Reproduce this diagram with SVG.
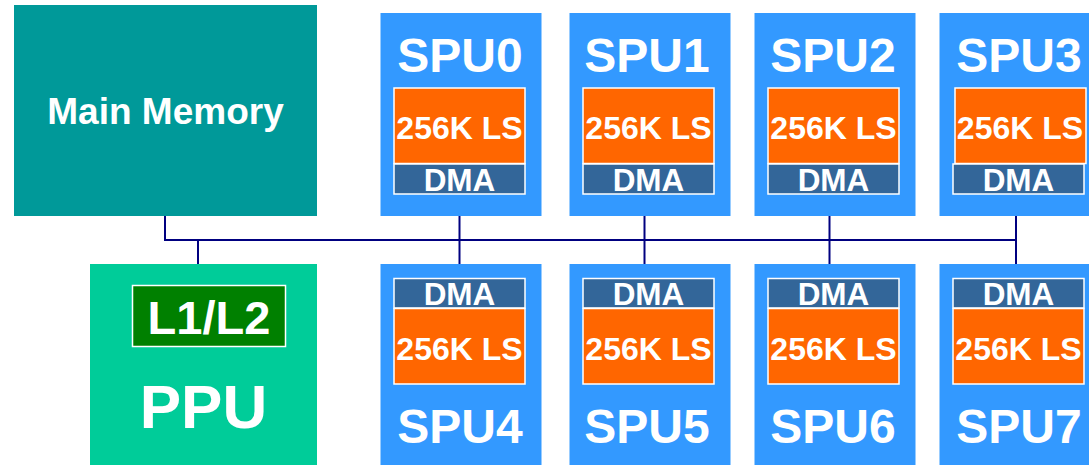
<svg xmlns="http://www.w3.org/2000/svg" width="1089" height="465" viewBox="0 0 1089 465">
  <defs>
    <style>
      text { font-family: "Liberation Sans", Arial, sans-serif; font-weight: bold; fill: #ffffff; text-anchor: middle; }
      .spu { fill: #3399ff; }
      .ls { fill: #ff6600; stroke: #ffffff; stroke-width: 1.5; }
      .dma { fill: #336699; stroke: #ffffff; stroke-width: 1.5; }
      .spu-label { font-size: 48px; }
      .ls-label { font-size: 32px; }
      .dma-label { font-size: 31.5px; }
      .bus { fill: none; stroke: #000080; stroke-width: 2; }
    </style>
  </defs>

  <rect width="1089" height="465" fill="#ffffff"/>

  <!-- interconnect bus -->
  <g id="connectors">
    <polyline class="bus" points="165,216 165,240 1016,240"/>
    <line class="bus" x1="198" y1="240" x2="198" y2="264"/>
    <line class="bus" x1="459.5" y1="216" x2="459.5" y2="264"/>
    <line class="bus" x1="644.5" y1="216" x2="644.5" y2="264"/>
    <line class="bus" x1="829.5" y1="216" x2="829.5" y2="264"/>
    <line class="bus" x1="1016" y1="216" x2="1016" y2="264"/>
  </g>

  <!-- main memory -->
  <g id="main-memory">
    <rect x="14" y="5" width="303" height="211" fill="#009999"/>
    <text x="165.5" y="124" font-size="37">Main Memory</text>
  </g>

  <!-- PPU with its cache -->
  <g id="ppu">
    <rect x="90" y="264" width="227" height="201" fill="#00cc99"/>
    <rect x="132.5" y="285.5" width="153" height="61" fill="#008000" stroke="#ffffff" stroke-width="1.5"/>
    <text x="209" y="334" font-size="47">L1/L2</text>
    <text x="203.5" y="428" font-size="62">PPU</text>
  </g>

  <!-- upper SPUs -->
  <g id="spu0">
    <rect class="spu" x="380.5" y="13" width="161" height="203"/>
    <text class="spu-label" x="460" y="72">SPU0</text>
    <rect class="ls" x="394" y="88" width="131" height="75.5"/>
    <text class="ls-label" x="459.5" y="139">256K LS</text>
    <rect class="dma" x="394" y="164" width="131" height="30"/>
    <text class="dma-label" x="459.5" y="191">DMA</text>
  </g>
  <g id="spu1">
    <rect class="spu" x="569.5" y="13" width="161" height="203"/>
    <text class="spu-label" x="647" y="72">SPU1</text>
    <rect class="ls" x="583" y="88" width="131" height="75.5"/>
    <text class="ls-label" x="648.5" y="139">256K LS</text>
    <rect class="dma" x="583" y="164" width="131" height="30"/>
    <text class="dma-label" x="648.5" y="191">DMA</text>
  </g>
  <g id="spu2">
    <rect class="spu" x="754.5" y="13" width="161" height="203"/>
    <text class="spu-label" x="833" y="72">SPU2</text>
    <rect class="ls" x="768" y="88" width="131" height="75.5"/>
    <text class="ls-label" x="833.5" y="139">256K LS</text>
    <rect class="dma" x="768" y="164" width="131" height="30"/>
    <text class="dma-label" x="833.5" y="191">DMA</text>
  </g>
  <g id="spu3">
    <rect class="spu" x="939.5" y="13" width="161" height="203"/>
    <text class="spu-label" x="1019" y="72">SPU3</text>
    <rect class="ls" x="955" y="88" width="131" height="75.5"/>
    <text class="ls-label" x="1020" y="139">256K LS</text>
    <rect class="dma" x="953" y="164" width="131" height="30"/>
    <text class="dma-label" x="1018.5" y="191">DMA</text>
  </g>

  <!-- lower SPUs -->
  <g id="spu4">
    <rect class="spu" x="380.5" y="264" width="161" height="201"/>
    <rect class="dma" x="394" y="278.5" width="131" height="29.5"/>
    <text class="dma-label" x="459.5" y="305">DMA</text>
    <rect class="ls" x="394" y="308.5" width="131" height="75.5"/>
    <text class="ls-label" x="459.5" y="360">256K LS</text>
    <text class="spu-label" x="460" y="443">SPU4</text>
  </g>
  <g id="spu5">
    <rect class="spu" x="569.5" y="264" width="161" height="201"/>
    <rect class="dma" x="583" y="278.5" width="131" height="29.5"/>
    <text class="dma-label" x="648.5" y="305">DMA</text>
    <rect class="ls" x="583" y="308.5" width="131" height="75.5"/>
    <text class="ls-label" x="648.5" y="360">256K LS</text>
    <text class="spu-label" x="647" y="443">SPU5</text>
  </g>
  <g id="spu6">
    <rect class="spu" x="754.5" y="264" width="161" height="201"/>
    <rect class="dma" x="768" y="278.5" width="131" height="29.5"/>
    <text class="dma-label" x="833.5" y="305">DMA</text>
    <rect class="ls" x="768" y="308.5" width="131" height="75.5"/>
    <text class="ls-label" x="833.5" y="360">256K LS</text>
    <text class="spu-label" x="833" y="443">SPU6</text>
  </g>
  <g id="spu7">
    <rect class="spu" x="939.5" y="264" width="161" height="201"/>
    <rect class="dma" x="953" y="278.5" width="131" height="29.5"/>
    <text class="dma-label" x="1018.5" y="305">DMA</text>
    <rect class="ls" x="953" y="308.5" width="131" height="75.5"/>
    <text class="ls-label" x="1018.5" y="360">256K LS</text>
    <text class="spu-label" x="1019" y="443">SPU7</text>
  </g>
</svg>
